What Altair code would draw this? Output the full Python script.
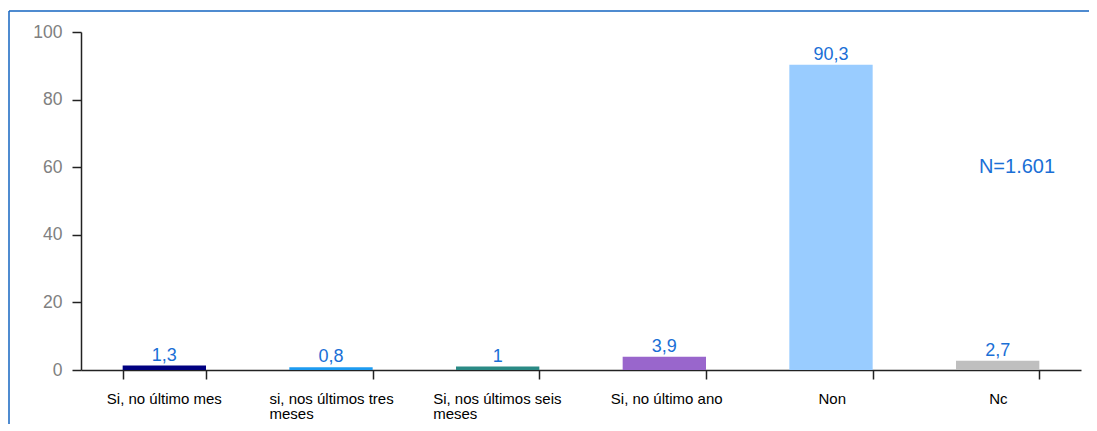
import altair as alt
import pandas as pd

categories = [
    "Si, no último mes",
    "si, nos últimos tres meses",
    "Si, nos últimos seis meses",
    "Si, no último ano",
    "Non",
    "Nc",
]
values = [1.3, 0.8, 1.0, 3.9, 90.3, 2.7]
value_labels = ["1,3", "0,8", "1", "3,9", "90,3", "2,7"]
bar_colors = ["#000080", "#1E9BF0", "#2A8A85", "#9966CC", "#99CCFF", "#BFBFBF"]
label_lines = {
    "si, nos últimos tres meses": ["si, nos últimos tres", "meses"],
    "Si, nos últimos seis meses": ["Si, nos últimos seis", "meses"],
}
label_half_widths = [58, 62, 65, 54, 13, 9]
y_ticks = [0, 20, 40, 60, 80, 100]
title_text = "OS SERVIZOS DA SOCIEDADE DA INFORMACIÓN DURANTE O ÚLTIMO ANO"
n_text = "N=1.601"

df = pd.DataFrame({"cat": categories, "value": values, "label": value_labels})

label_expr = ""
for k, lines in label_lines.items():
    arr = "[" + ", ".join("'" + l + "'" for l in lines) + "]"
    label_expr += f"datum.label == '{k}' ? {arr} : "
label_expr += "datum.label"

offset_cond = {
    "condition": [
        {"test": f"datum.value == '{c}'", "value": -w}
        for c, w in zip(categories, label_half_widths)
    ],
    "value": 0,
}

x = alt.X(
    "cat:N",
    sort=categories,
    scale=alt.Scale(paddingInner=0.5, paddingOuter=0.25),
    axis=alt.Axis(
        title=None,
        labelAngle=0,
        labelExpr=label_expr,
        labelAlign="left",
        labelBaseline="top",
        labelOffset=offset_cond,
        labelFont="Liberation Sans",
        labelFontSize=15,
        labelColor="#000000",
        labelLineHeight=15,
        labelPadding=12,
        labelLimit=300,
        tickSize=9,
        tickColor="#222222",
        tickBand="extent",
        domainColor="#222222",
        domainWidth=1.5,
        tickWidth=1.5,
    ),
)
y = alt.Y(
    "value:Q",
    scale=alt.Scale(domain=[0, 100], nice=False),
    axis=alt.Axis(
        title=None,
        values=y_ticks,
        grid=False,
        tickSize=9,
        tickColor="#222222",
        tickWidth=1.5,
        domainColor="#222222",
        domainWidth=1.5,
        labelFont="Liberation Sans",
        labelFontSize=17.5,
        labelColor="#808080",
        labelPadding=10,
    ),
)

bars = alt.Chart(df).mark_bar().encode(
    x=x,
    y=y,
    color=alt.Color("cat:N", sort=categories,
                    scale=alt.Scale(domain=categories, range=bar_colors), legend=None),
)

texts = alt.Chart(df).mark_text(
    baseline="bottom", dy=-1, font="Liberation Sans", fontSize=18, color="#1A6FD6"
).encode(x=alt.X("cat:N", sort=categories), y="value:Q", text="label:N")

anchor = pd.DataFrame({"a": [0]})
frame_top = alt.Chart(anchor).mark_rule(
    stroke="#1565C0", strokeWidth=1.5
).encode(x=alt.value(-72), x2=alt.value(1020), y=alt.value(-21))
frame_left = alt.Chart(anchor).mark_rule(
    stroke="#1565C0", strokeWidth=1.5
).encode(x=alt.value(-72), y=alt.value(-21), y2=alt.value(1000))

title = alt.Chart(pd.DataFrame({"t": [title_text]})).mark_text(
    align="left", baseline="alphabetic", font="Liberation Sans", fontSize=16, color="#1A6FD6"
).encode(x=alt.value(-73), y=alt.value(-27), text="t:N")

ntext = alt.Chart(pd.DataFrame({"t": [n_text]})).mark_text(
    align="center", baseline="middle", font="Liberation Sans", fontSize=20, color="#1A6FD6"
).encode(x=alt.value(936), y=alt.value(135), text="t:N")

chart = alt.layer(frame_top, frame_left, bars, texts, ntext, title).properties(
    width=1000,
    height=338,
    padding={"left": 73, "top": 24, "right": 8, "bottom": 54},
    autosize=alt.AutoSizeParams(type="none"),
).configure_view(stroke=None)

chart.save("out.html", embed_options={"renderer": "svg", "actions": False})
